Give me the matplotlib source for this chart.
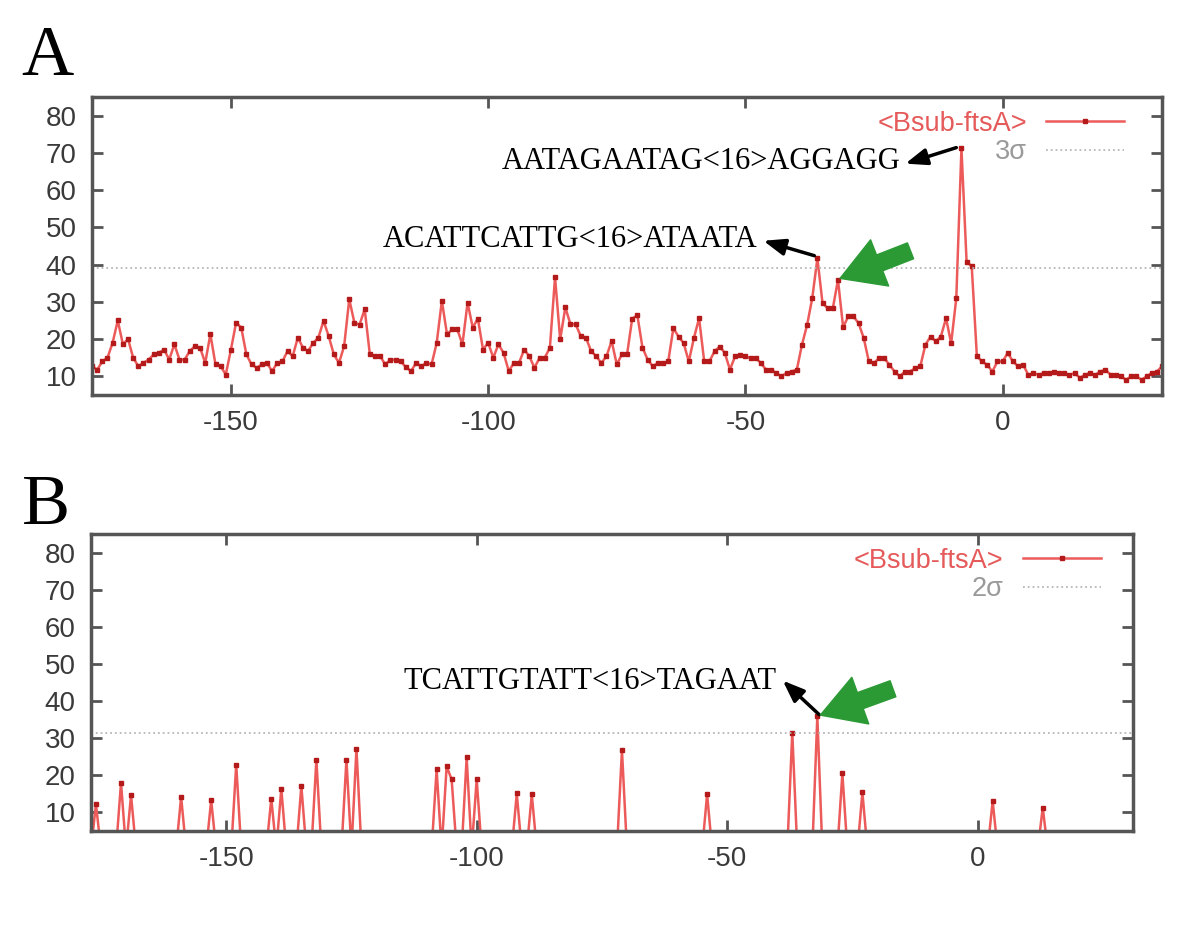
import numpy as np
import matplotlib
matplotlib.use("Agg")
import matplotlib.pyplot as plt

plt.rcParams['font.family'] = ['Liberation Sans', 'DejaVu Sans']
plt.rcParams['axes.unicode_minus'] = False

# positions relative to the start site
pos = np.arange(-177, 32)

# panel A: score per position
score_a = [
    12.7, 11.8, 14, 15, 19, 25, 18.6, 20, 15, 12.7,
    13.6, 14.5, 15.9, 16.3, 17.2, 14.5, 18.6, 14.5, 14.5, 16.8,
    18.1, 17.7, 13.6, 21.3, 13.2, 12.7, 10.5, 17.2, 24.4, 23.1,
    15.9, 13.2, 12.3, 13.2, 13.6, 11.4, 13.6, 14, 16.8, 15.4,
    20.4, 17.7, 16.8, 19, 20.4, 24.9, 20.8, 15.9, 13.6, 18.1,
    30.7, 24.4, 23.9, 28, 15.9, 15.4, 15.4, 13.2, 14.5, 14.5,
    14, 12.5, 11.4, 13.6, 12.7, 13.6, 13.2, 19, 30.3, 21.3,
    22.6, 22.6, 18.6, 29.8, 23.1, 25.5, 17.2, 19, 15, 18.6,
    16.3, 11.4, 13.6, 13.6, 17.2, 15.4, 12.3, 15, 15, 17.7,
    36.6, 19.9, 28.5, 24, 24, 20.8, 20.4, 16.8, 15.4, 13.6,
    15.4, 19.5, 13.2, 15.9, 15.9, 25.5, 26.4, 17.7, 14.5, 12.7,
    13.6, 13.6, 14, 22.9, 20.7, 18.9, 14, 20.3, 25.6, 14,
    14, 16.7, 18, 16.3, 11.8, 15.4, 15.8, 15.4, 14.9, 14.9,
    13.6, 11.8, 11.8, 10.9, 10, 10.9, 11.3, 11.8, 18.5, 23.8,
    31, 41.7, 29.6, 28.3, 28.3, 35.9, 23.2, 26.1, 26.1, 24.3,
    20.3, 14, 13.6, 14.9, 14.9, 13.1, 11.3, 10, 11.3, 11.3,
    12.2, 12.7, 18.5, 20.7, 19.4, 20.7, 25.6, 18.9, 31, 71.2,
    40.8, 39.5, 15.4, 14, 13.1, 11.3, 14, 14, 16.3, 14,
    12.7, 13.1, 10.4, 10.9, 10.4, 10.9, 10.9, 11.3, 10.9, 10.9,
    10.4, 10.9, 9.6, 10.4, 10.9, 10.4, 11.3, 11.8, 10.4, 10.4,
    10, 9.1, 10, 10, 9.1, 10, 10.9, 11.3, 12.7,
]
sigma3 = 39

# panel B: only the hits above 2 sigma filter, zero elsewhere
hit_pos = [-176, -171, -169, -159, -153, -148, -141, -139, -135, -132,
           -126, -124, -108, -106, -105, -102, -100, -92, -89, -71,
           -54, -37, -32, -27, -23, 3, 13]
hit_val = [12.2, 18, 14.7, 14.2, 13.3, 22.9, 13.7, 16.4, 17.1, 24.2,
           24.2, 27.2, 21.6, 22.4, 18.9, 24.8, 18.9, 15.1, 14.9, 26.8,
           14.9, 31.5, 35.9, 20.5, 15.4, 13.1, 11.3]
sigma2 = 31.3

score_b = np.zeros(len(pos))
for p, v in zip(hit_pos, hit_val):
    score_b[p - pos[0]] = v

line_col = '#ec5a5a'
mark_col = '#b51a1a'
grey = '#555555'
serif = ['Liberation Serif', 'DejaVu Serif']
black_arrow = dict(arrowstyle='-|>,head_length=1.3,head_width=0.5',
                   color='black', lw=2.5, shrinkA=0, shrinkB=0)
green_arrow = dict(arrowstyle='simple,head_length=0.9,head_width=1.05,tail_width=0.36',
                   color='#2b9a35', mutation_scale=34, shrinkA=0, shrinkB=0)

fig = plt.figure(figsize=(12, 9.27), dpi=100)
axA = fig.add_axes([0.0767, 0.5739, 0.8917, 0.3215])
axB = fig.add_axes([0.0758, 0.1036, 0.8683, 0.3204])


def style(ax):
    ax.set_xlim(-177, 31)
    ax.set_ylim(5, 85)
    ax.set_xticks([-150, -100, -50, 0])
    ax.set_yticks([10, 20, 30, 40, 50, 60, 70, 80])
    ax.tick_params(direction='in', top=True, right=True, length=8, width=2,
                   color=grey, labelsize=20, labelcolor='#3a3a3a', pad=11)
    for s in ax.spines.values():
        s.set_color(grey)
        s.set_linewidth(2.5)


# panel A
axA.plot(pos, score_a, color=line_col, lw=1.8, marker='s', ms=3,
         mfc=mark_col, mec=mark_col, label='<Bsub-ftsA>')
axA.axhline(sigma3, color='#b8b8b8', lw=1.3, ls=':', label='3σ')
style(axA)
axA.legend(loc='upper right', bbox_to_anchor=(0.975, 0.99), frameon=False,
           markerfirst=False, numpoints=1, fontsize=19.5, handlelength=2.9,
           handletextpad=0.7, labelspacing=0.1, borderaxespad=0,
           labelcolor=['#e55a5a', '#9a9a9a'])

axA.annotate('', xy=(-18.9, 67.1), xytext=(-9.0, 71.4), arrowprops=black_arrow)
axA.text(-19.8, 67.6, 'AATAGAATAG<16>AGGAGG', ha='right', va='center',
         fontsize=22, family=serif)
axA.annotate('', xy=(-46.5, 46.4), xytext=(-36.6, 42.4), arrowprops=black_arrow)
axA.text(-47.6, 46.8, 'ACATTCATTG<16>ATAATA', ha='right', va='center',
         fontsize=22, family=serif)
axA.annotate('', xy=(-31.6, 36.3), xytext=(-17.9, 43.7), arrowprops=green_arrow)

# panel B
axB.plot(pos, score_b, color=line_col, lw=1.8, marker='s', ms=3,
         mfc=mark_col, mec=mark_col, label='<Bsub-ftsA>')
axB.axhline(sigma2, color='#b8b8b8', lw=1.3, ls=':', label='2σ')
style(axB)
axB.legend(loc='upper right', bbox_to_anchor=(0.98, 0.99), frameon=False,
           markerfirst=False, numpoints=1, fontsize=19.5, handlelength=2.9,
           handletextpad=0.7, labelspacing=0.1, borderaxespad=0,
           labelcolor=['#e55a5a', '#9a9a9a'])

axB.annotate('', xy=(-38.9, 45.5), xytext=(-31.6, 36.3), arrowprops=black_arrow)
axB.text(-40.2, 45.3, 'TCATTGTATT<16>TAGAAT', ha='right', va='center',
         fontsize=22, family=serif)
axB.annotate('', xy=(-31.4, 36.2), xytext=(-16.9, 43.3), arrowprops=green_arrow)

# panel letters
fig.text(0.018, 1 - 75 / 927, 'A', fontsize=52, family=serif, va='baseline')
fig.text(0.018, 1 - 524 / 927, 'B', fontsize=52, family=serif, va='baseline')

fig.savefig('out.png', dpi=100, facecolor='white')
